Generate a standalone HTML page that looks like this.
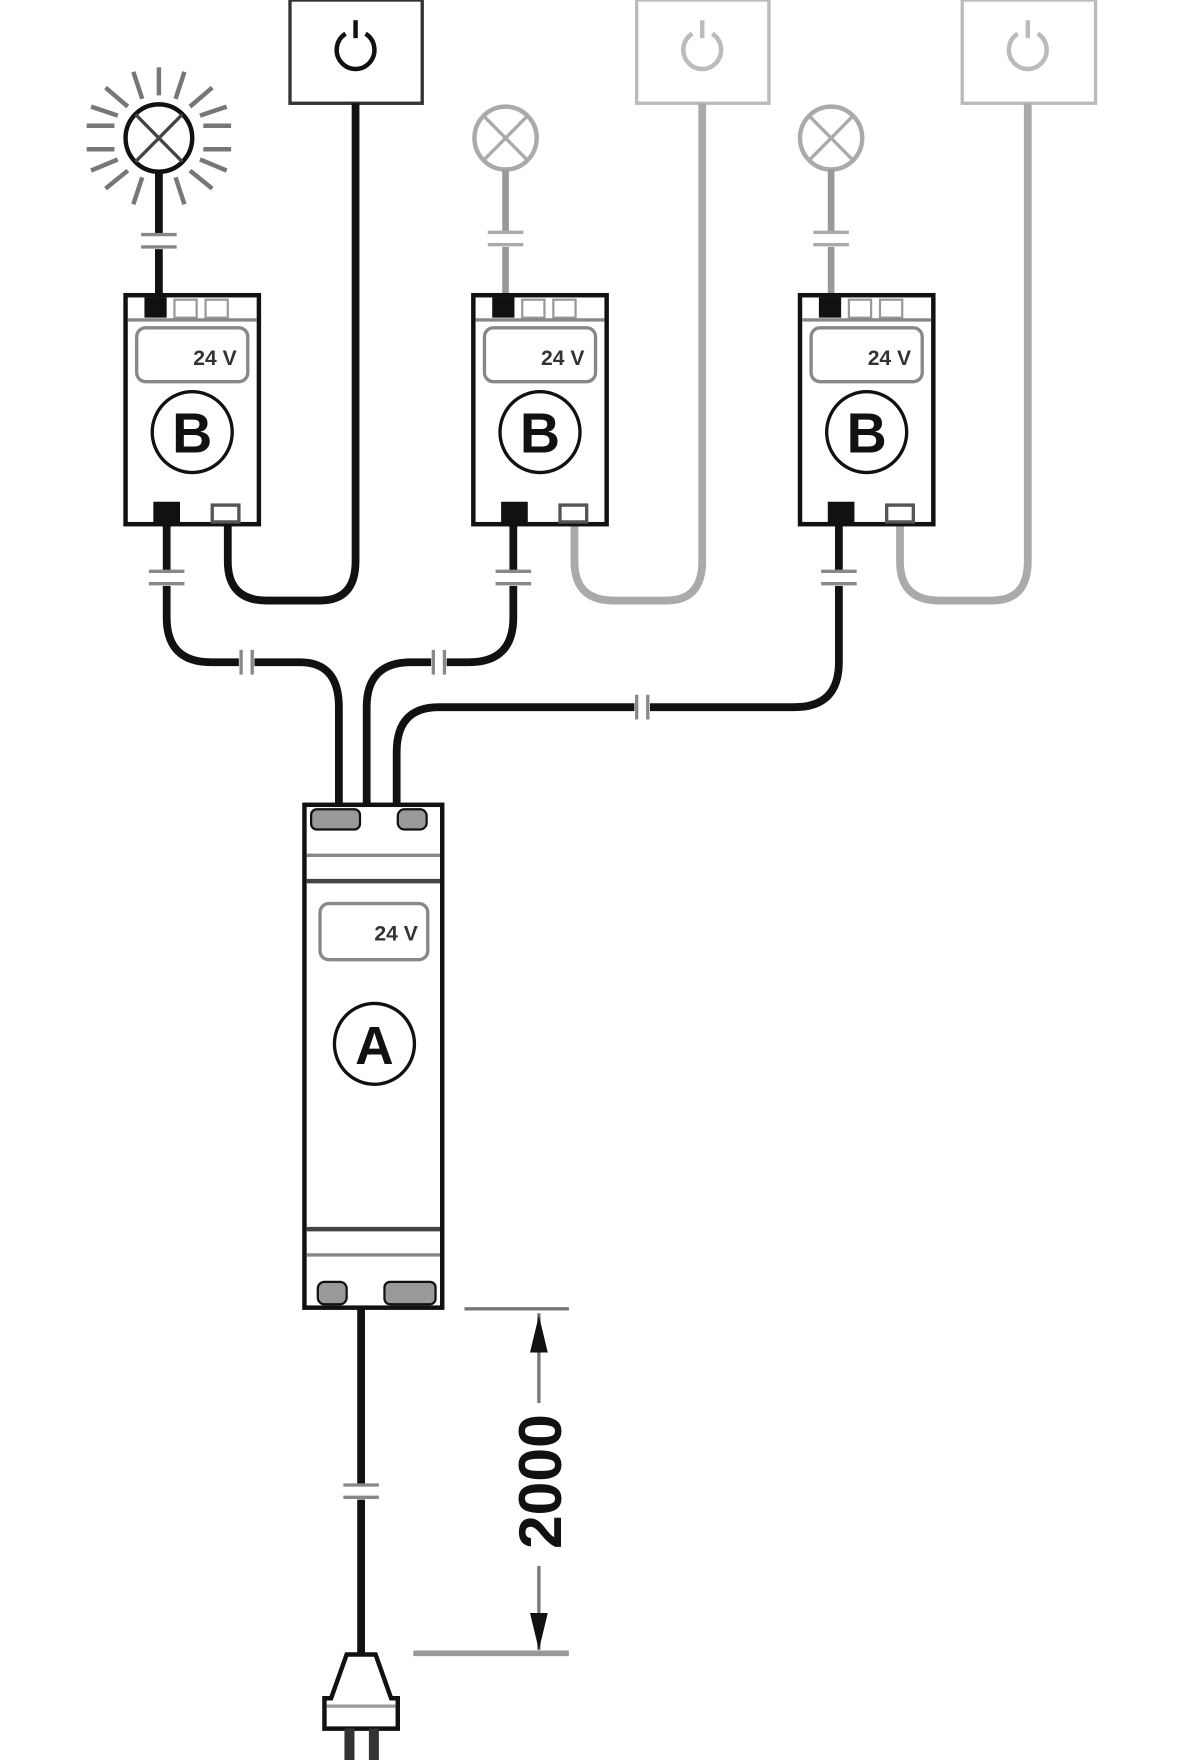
<!DOCTYPE html>
<html><head><meta charset="utf-8"><style>html,body{margin:0;padding:0;background:#fff}svg{display:block}</style></head>
<body>
<svg width="1200" height="1760" viewBox="0 0 1080 1568" preserveAspectRatio="none" xmlns="http://www.w3.org/2000/svg" font-family="Liberation Sans, sans-serif">
<rect width="1080" height="1568" fill="#fff"/>
<defs>
<g id="B">
  <rect x="0" y="0" width="120" height="204" fill="#fff" stroke="#111" stroke-width="4"/>
  <rect x="17" y="2" width="20" height="18" fill="#111"/>
  <rect x="44" y="4" width="20" height="16" fill="none" stroke="#999" stroke-width="2"/>
  <rect x="72" y="4" width="20" height="16" fill="none" stroke="#999" stroke-width="2"/>
  <line x1="2" y1="22" x2="118" y2="22" stroke="#888" stroke-width="3"/>
  <rect x="10" y="29" width="100" height="48" rx="8" fill="#fff" stroke="#888" stroke-width="3"/>
  <text x="100" y="62" text-anchor="end" font-size="19" font-weight="bold" fill="#333">24 V</text>
  <circle cx="60" cy="122" r="36" fill="#fff" stroke="#111" stroke-width="3"/>
  <text x="60" y="140" text-anchor="middle" font-size="50" font-weight="bold" fill="#111">B</text>
  <rect x="25" y="184" width="24" height="20" fill="#111"/>
  <rect x="78" y="187" width="24" height="15" fill="#fff" stroke="#555" stroke-width="3"/>
</g>
</defs>

<!-- switches -->
<rect x="261" y="0" width="119" height="92" fill="#fff" stroke="#333" stroke-width="3"/>
<path d="M311 30 A17 17 0 1 0 329 30" fill="none" stroke="#111" stroke-width="4"/><line x1="320" y1="18" x2="320" y2="34" stroke="#111" stroke-width="4"/>
<rect x="573" y="0" width="119" height="92" fill="#fff" stroke="#bbb" stroke-width="3"/>
<path d="M623 30 A17 17 0 1 0 641 30" fill="none" stroke="#bbb" stroke-width="4"/><line x1="632" y1="18" x2="632" y2="34" stroke="#bbb" stroke-width="4"/>
<rect x="866" y="0" width="120" height="92" fill="#fff" stroke="#bbb" stroke-width="3"/>
<path d="M916 30 A17 17 0 1 0 934 30" fill="none" stroke="#bbb" stroke-width="4"/><line x1="925" y1="18" x2="925" y2="34" stroke="#bbb" stroke-width="4"/>

<!-- switch wires -->
<path d="M205 465 V500 Q205 535 240 535 H288 Q320 535 320 500 V92" fill="none" stroke="#111" stroke-width="7"/>
<path d="M517 465 V500 Q517 535 552 535 H600 Q632 535 632 500 V92" fill="none" stroke="#aaa" stroke-width="7"/>
<path d="M810 465 V500 Q810 535 845 535 H893 Q925 535 925 500 V92" fill="none" stroke="#aaa" stroke-width="7"/>

<!-- lamps -->
<g stroke="#777" stroke-width="4">
<line x1="143" y1="60" x2="143" y2="85"/><line x1="143" y1="165" x2="143" y2="190"/>
<line x1="78" y1="112" x2="103" y2="112"/><line x1="78" y1="133" x2="103" y2="133"/>
<line x1="183" y1="112" x2="208" y2="112"/><line x1="183" y1="133" x2="208" y2="133"/>
<line x1="95" y1="78" x2="115" y2="95"/><line x1="191" y1="78" x2="171" y2="95"/>
<line x1="95" y1="168" x2="115" y2="152"/><line x1="191" y1="168" x2="171" y2="152"/>
<line x1="120" y1="64" x2="128" y2="88"/><line x1="166" y1="64" x2="158" y2="88"/>
<line x1="120" y1="182" x2="128" y2="158"/><line x1="166" y1="182" x2="158" y2="158"/>
<line x1="82" y1="95" x2="106" y2="103"/><line x1="204" y1="95" x2="180" y2="103"/>
<line x1="82" y1="152" x2="106" y2="142"/><line x1="204" y1="152" x2="180" y2="142"/>
</g>
<circle cx="143" cy="123" r="30" fill="#fff" stroke="#111" stroke-width="4"/>
<line x1="122" y1="102" x2="164" y2="144" stroke="#444" stroke-width="3"/><line x1="164" y1="102" x2="122" y2="144" stroke="#444" stroke-width="3"/>
<line x1="143" y1="153" x2="143" y2="263" stroke="#111" stroke-width="7"/>
<rect x="125" y="208" width="36" height="14" fill="#fff"/><line x1="127" y1="209" x2="159" y2="209" stroke="#888" stroke-width="3"/><line x1="127" y1="220" x2="159" y2="220" stroke="#888" stroke-width="3"/>

<g>
<circle cx="455" cy="123" r="28" fill="#fff" stroke="#aaa" stroke-width="4"/>
<line x1="435" y1="103" x2="475" y2="143" stroke="#aaa" stroke-width="3"/><line x1="475" y1="103" x2="435" y2="143" stroke="#aaa" stroke-width="3"/>
<line x1="455" y1="151" x2="455" y2="263" stroke="#999" stroke-width="6"/>
<rect x="437" y="206" width="36" height="14" fill="#fff"/><line x1="439" y1="207" x2="471" y2="207" stroke="#aaa" stroke-width="3"/><line x1="439" y1="218" x2="471" y2="218" stroke="#aaa" stroke-width="3"/>
</g>
<g>
<circle cx="748" cy="123" r="28" fill="#fff" stroke="#aaa" stroke-width="4"/>
<line x1="728" y1="103" x2="768" y2="143" stroke="#aaa" stroke-width="3"/><line x1="768" y1="103" x2="728" y2="143" stroke="#aaa" stroke-width="3"/>
<line x1="748" y1="151" x2="748" y2="263" stroke="#999" stroke-width="6"/>
<rect x="730" y="206" width="36" height="14" fill="#fff"/><line x1="732" y1="207" x2="764" y2="207" stroke="#aaa" stroke-width="3"/><line x1="732" y1="218" x2="764" y2="218" stroke="#aaa" stroke-width="3"/>
</g>

<!-- main wires -->
<g fill="none" stroke="#111" stroke-width="7">
<path d="M150 465 V550 Q150 590 190 590 H270 Q305 590 305 630 V720"/>
<path d="M462 465 V550 Q462 590 422 590 H370 Q330 590 330 630 V720"/>
<path d="M755 465 V590 Q755 630 715 630 H395 Q357 630 357 670 V720"/>
<path d="M325 1165 V1475"/>
</g>
<g fill="#fff">
<rect x="132" y="508" width="36" height="14"/><rect x="444" y="508" width="36" height="14"/><rect x="737" y="508" width="36" height="14"/>
<rect x="215" y="578" width="14" height="24"/><rect x="388" y="578" width="14" height="24"/><rect x="571" y="618" width="14" height="24"/>
<rect x="307" y="1322" width="36" height="14"/>
</g>
<g stroke="#888" stroke-width="3">
<line x1="134" y1="509" x2="166" y2="509"/><line x1="134" y1="520" x2="166" y2="520"/>
<line x1="446" y1="509" x2="478" y2="509"/><line x1="446" y1="520" x2="478" y2="520"/>
<line x1="739" y1="509" x2="771" y2="509"/><line x1="739" y1="520" x2="771" y2="520"/>
<line x1="217" y1="579" x2="217" y2="601"/><line x1="227" y1="579" x2="227" y2="601"/>
<line x1="390" y1="579" x2="390" y2="601"/><line x1="400" y1="579" x2="400" y2="601"/>
<line x1="573" y1="619" x2="573" y2="641"/><line x1="583" y1="619" x2="583" y2="641"/>
<line x1="309" y1="1323" x2="341" y2="1323"/><line x1="309" y1="1334" x2="341" y2="1334"/>
</g>

<!-- B boxes -->
<use href="#B" x="113" y="263"/>
<use href="#B" x="426" y="263"/>
<use href="#B" x="720" y="263"/>

<!-- A box -->
<rect x="274" y="717" width="124" height="448" fill="#fff" stroke="#111" stroke-width="4"/>
<rect x="280" y="721" width="44" height="18" rx="5" fill="#999" stroke="#111" stroke-width="2"/>
<rect x="358" y="721" width="26" height="18" rx="6" fill="#999" stroke="#111" stroke-width="2"/>
<line x1="276" y1="762" x2="396" y2="762" stroke="#888" stroke-width="3"/>
<line x1="276" y1="785" x2="396" y2="785" stroke="#444" stroke-width="4"/>
<rect x="288" y="805" width="97" height="50" rx="8" fill="#fff" stroke="#888" stroke-width="3"/>
<text x="376" y="838" text-anchor="end" font-size="19" font-weight="bold" fill="#333">24 V</text>
<circle cx="337" cy="930" r="36" fill="#fff" stroke="#111" stroke-width="3"/>
<text x="337" y="948" text-anchor="middle" font-size="48" font-weight="bold" fill="#111">A</text>
<line x1="276" y1="1095" x2="396" y2="1095" stroke="#444" stroke-width="4"/>
<line x1="276" y1="1118" x2="396" y2="1118" stroke="#888" stroke-width="3"/>
<rect x="286" y="1142" width="26" height="20" rx="6" fill="#999" stroke="#111" stroke-width="2"/>
<rect x="346" y="1142" width="46" height="20" rx="5" fill="#999" stroke="#111" stroke-width="2"/>

<!-- plug -->
<path d="M312 1474 H338 L352 1513 H358 V1540 H292 V1513 H298 Z" fill="#fff" stroke="#111" stroke-width="4"/>
<line x1="294" y1="1520" x2="356" y2="1520" stroke="#999" stroke-width="3"/>
<rect x="310" y="1540" width="9" height="28" fill="#333"/><rect x="332" y="1540" width="9" height="28" fill="#333"/>

<!-- dimension -->
<line x1="418" y1="1166" x2="512" y2="1166" stroke="#777" stroke-width="3"/>
<line x1="372" y1="1473" x2="512" y2="1473" stroke="#999" stroke-width="5"/>
<line x1="485" y1="1170" x2="485" y2="1250" stroke="#777" stroke-width="3"/>
<line x1="485" y1="1395" x2="485" y2="1470" stroke="#777" stroke-width="3"/>
<polygon points="485,1172 477,1205 493,1205" fill="#111"/>
<polygon points="485,1470 477,1437 493,1437" fill="#111"/>
<text transform="translate(505,1320) rotate(-90)" text-anchor="middle" font-size="54" font-weight="bold" fill="#111">2000</text>
</svg>
</body></html>
